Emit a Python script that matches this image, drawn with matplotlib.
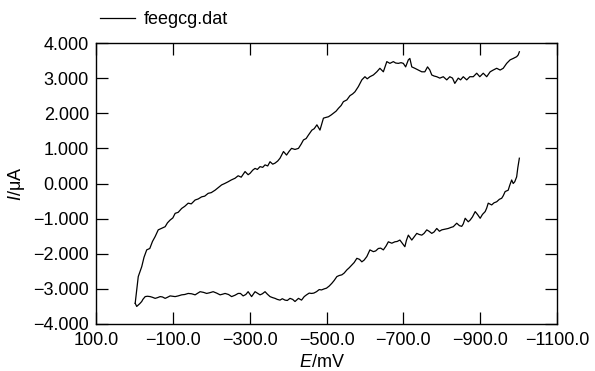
import matplotlib
matplotlib.use("Agg")
import matplotlib.pyplot as plt
from matplotlib.ticker import FuncFormatter

plt.rcParams['font.family'] = ['Liberation Sans', 'DejaVu Sans']
plt.rcParams['mathtext.fontset'] = 'custom'
plt.rcParams['mathtext.rm'] = 'Liberation Sans'
plt.rcParams['mathtext.it'] = 'Liberation Sans:italic'

# forward scan (0 -> -1000 mV), upper branch
e_fwd = [-2, -6, -10, -19, -25, -32, -40, -47, -54, -62, -70, -80, -86, -93, -100,
         -106, -114, -123, -131, -140, -148, -158, -166, -175, -183, -192, -200,
         -210, -218, -227, -235, -244, -252, -262, -270, -278, -288, -296, -301,
         -308, -314, -320, -327, -334, -340, -347, -353, -360, -366, -373, -379,
         -388, -396, -403, -409, -418, -427, -434, -440, -447, -453, -462, -468,
         -475, -483, -492, -498, -505, -512, -518, -525, -531, -538, -544, -553,
         -561, -568, -574, -583, -592, -600, -606, -613, -622, -631, -639, -648,
         -657, -665, -674, -680, -687, -694, -700, -706, -713, -717, -722, -730,
         -739, -748, -756, -763, -769, -774, -780, -787, -795, -804, -813, -821,
         -828, -834, -843, -849, -856, -865, -873, -882, -891, -899, -908, -917,
         -926, -934, -943, -952, -960, -969, -978, -986, -995, -999, -1002]
i_fwd = [-3.41, -3.03, -2.65, -2.37, -2.10, -1.89, -1.85, -1.65, -1.51, -1.32, -1.28,
         -1.23, -1.12, -1.04, -0.98, -0.85, -0.82, -0.71, -0.65, -0.56, -0.58, -0.47,
         -0.44, -0.38, -0.36, -0.28, -0.26, -0.19, -0.12, -0.04, 0.00, 0.05, 0.10,
         0.15, 0.22, 0.18, 0.34, 0.25, 0.29, 0.38, 0.43, 0.40, 0.48, 0.46, 0.53, 0.50,
         0.62, 0.55, 0.58, 0.64, 0.72, 0.91, 0.81, 0.92, 1.00, 0.97, 1.00, 1.12, 1.24,
         1.28, 1.38, 1.52, 1.56, 1.67, 1.52, 1.86, 1.88, 1.90, 1.95, 2.00, 2.06, 2.14,
         2.22, 2.33, 2.38, 2.50, 2.55, 2.61, 2.76, 2.95, 3.04, 2.98, 3.04, 3.09, 3.18,
         3.28, 3.18, 3.47, 3.42, 3.47, 3.43, 3.42, 3.44, 3.42, 3.32, 3.52, 3.56, 3.32,
         3.28, 3.23, 3.18, 3.18, 3.32, 3.23, 3.09, 3.06, 3.04, 3.00, 3.04, 2.95, 3.04,
         3.00, 2.85, 3.00, 2.95, 3.04, 2.95, 3.04, 3.04, 3.14, 3.04, 3.14, 3.04, 3.18,
         3.23, 3.28, 3.23, 3.28, 3.42, 3.52, 3.56, 3.61, 3.66, 3.75]

# reverse scan (-1000 -> 0 mV), lower branch
e_rev = [-1002, -998, -995, -990, -986, -982, -977, -973, -965, -960, -956, -950,
         -943, -936, -930, -921, -917, -913, -906, -900, -893, -887, -880, -874,
         -869, -861, -856, -852, -846, -839, -830, -824, -817, -808, -800, -794,
         -787, -780, -774, -767, -761, -754, -748, -741, -735, -728, -722, -713,
         -708, -704, -697, -691, -684, -678, -670, -661, -655, -648, -641, -635,
         -628, -622, -613, -605, -598, -592, -586, -579, -572, -566, -559, -553,
         -546, -540, -533, -527, -520, -514, -507, -500, -494, -487, -481, -474,
         -467, -461, -455, -448, -442, -435, -427, -418, -412, -405, -398, -392,
         -385, -379, -372, -366, -360, -353, -346, -340, -333, -327, -320, -314,
         -305, -296, -290, -283, -276, -270, -262, -253, -245, -236, -230, -223,
         -214, -205, -196, -188, -180, -171, -164, -158, -149, -140, -131, -123,
         -114, -106, -99, -93, -86, -80, -73, -67, -60, -54, -47, -41, -34, -28,
         -22, -19, -14, -10, -6, -2]
i_rev = [0.72, 0.45, 0.19, 0.05, 0.00, 0.10, -0.05, -0.19, -0.23, -0.35, -0.42, -0.45,
         -0.52, -0.55, -0.61, -0.56, -0.70, -0.80, -0.88, -0.99, -0.88, -0.80, -0.95,
         -1.04, -1.09, -0.99, -1.15, -1.22, -1.20, -1.13, -1.23, -1.25, -1.28, -1.30,
         -1.32, -1.36, -1.28, -1.38, -1.42, -1.36, -1.32, -1.42, -1.47, -1.45, -1.42,
         -1.52, -1.61, -1.47, -1.62, -1.80, -1.70, -1.61, -1.65, -1.66, -1.70, -1.66,
         -1.78, -1.89, -1.84, -1.85, -1.92, -1.94, -1.89, -2.08, -2.18, -2.23, -2.16,
         -2.13, -2.25, -2.32, -2.40, -2.46, -2.55, -2.60, -2.62, -2.65, -2.76, -2.84,
         -2.92, -2.98, -3.00, -3.03, -3.02, -3.08, -3.12, -3.13, -3.12, -3.17, -3.22,
         -3.32, -3.27, -3.36, -3.30, -3.27, -3.33, -3.32, -3.28, -3.32, -3.30, -3.27,
         -3.25, -3.22, -3.15, -3.08, -3.14, -3.17, -3.12, -3.08, -3.22, -3.08, -3.16,
         -3.20, -3.13, -3.13, -3.18, -3.22, -3.16, -3.13, -3.15, -3.17, -3.12, -3.08,
         -3.11, -3.13, -3.10, -3.08, -3.13, -3.17, -3.14, -3.13, -3.16, -3.17, -3.20,
         -3.22, -3.21, -3.20, -3.24, -3.27, -3.23, -3.22, -3.25, -3.27, -3.24, -3.22,
         -3.21, -3.22, -3.30, -3.36, -3.42, -3.46, -3.50, -3.41]

x_ticks = [100, -100, -300, -500, -700, -900, -1100]
y_ticks = [-4, -3, -2, -1, 0, 1, 2, 3, 4]

fig = plt.figure(figsize=(5.95, 3.71), dpi=100)
ax = fig.add_axes([96/595, 1-324/371, 461/595, 281/371])

ax.plot(e_fwd, i_fwd, color='black', lw=0.9, label='feegcg.dat')
ax.plot(e_rev, i_rev, color='black', lw=0.9)

ax.set_xlim(100, -1100)
ax.set_ylim(-4, 4)
ax.set_xticks(x_ticks)
ax.set_yticks(y_ticks)
ax.xaxis.set_major_formatter(FuncFormatter(lambda v, p: f"{v:.1f}".replace('-', '\u2212')))
ax.yaxis.set_major_formatter(FuncFormatter(lambda v, p: f"{v:.3f}".replace('-', '\u2212')))
ax.tick_params(direction='in', length=8.5, width=0.9, top=True, right=True,
               labelsize=13, pad=5)
ax.tick_params(axis='x', pad=6)
for s in ax.spines.values():
    s.set_linewidth(1.0)

ax.set_xlabel(r'$E$/mV', fontsize=13)
ax.set_ylabel(r'$I$/μA', fontsize=13)
ax.xaxis.set_label_coords(0.49, -0.108)
ax.yaxis.set_label_coords(-0.15, 0.5)

ax.legend(loc='center left', bbox_to_anchor=(100/595, 1-20/371),
          bbox_transform=fig.transFigure, frameon=False, fontsize=13,
          handlelength=1.95, handletextpad=0.5, borderpad=0, borderaxespad=0)

fig.savefig('out.png', dpi=100)
